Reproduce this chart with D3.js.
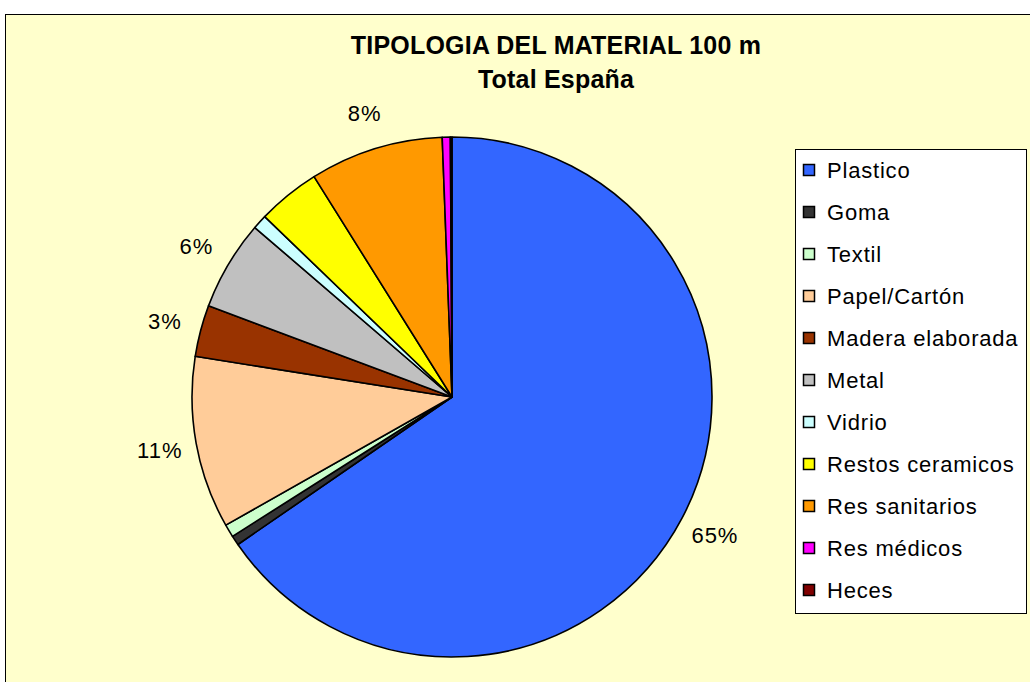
<!DOCTYPE html>
<html>
<head>
<meta charset="utf-8">
<script src="https://cdn.jsdelivr.net/npm/d3@7"></script>
<style>
  body { margin: 0; background: #fff; }
  text { font-family: "Liberation Sans", Arial, sans-serif; }
</style>
</head>
<body>
<div id="chart"></div>
<script>
// material categories, values in %
const categories = ["Plastico", "Goma", "Textil", "Papel/Cartón", "Madera elaborada", "Metal",
  "Vidrio", "Restos ceramicos", "Res sanitarios", "Res médicos", "Heces"];
const values = [65.4, 0.6, 0.8, 10.7, 3.2, 5.6, 0.9, 3.9, 8.3, 0.5, 0.1];
const colors = ["#3366FF", "#333333", "#CCFFCC", "#FFCC99", "#993300", "#C0C0C0",
  "#CCFFFF", "#FFFF00", "#FF9900", "#FF00FF", "#800000"];
// only these slices carry a percentage label in the original
const labelled = ["Plastico", "Papel/Cartón", "Madera elaborada", "Metal", "Res sanitarios"];
const titleLines = ["TIPOLOGIA DEL MATERIAL 100 m", "Total España"];

const width = 1030, height = 682;
const cx = 452, cy = 397, radius = 260;

const data = categories.map((c, i) => ({ name: c, value: values[i] }));
const total = d3.sum(values);

const svg = d3.select("#chart").append("svg")
  .attr("width", width)
  .attr("height", height);

// chart area
svg.append("rect")
  .attr("x", 5.5).attr("y", 14.5)
  .attr("width", width + 10).attr("height", height + 10)
  .attr("fill", "#FFFFCC")
  .attr("stroke", "#000")
  .attr("stroke-width", 1);

// title
svg.append("g").selectAll("text")
  .data(titleLines)
  .enter().append("text")
  .attr("x", 556)
  .attr("y", (d, i) => 54 + i * 34)
  .attr("text-anchor", "middle")
  .attr("font-weight", "bold")
  .attr("font-size", 25)
  .attr("letter-spacing", 0.2)
  .attr("fill", "#000")
  .text(d => d);

const color = d3.scaleOrdinal().domain(categories).range(colors);

const pie = d3.pie()
  .value(d => d.value)
  .sort(null);

const arc = d3.arc().innerRadius(0).outerRadius(radius);
const labelArc = d3.arc().innerRadius(radius + 37).outerRadius(radius + 37);

const g = svg.append("g").attr("transform", `translate(${cx},${cy})`);
const arcs = pie(data);

g.selectAll("path")
  .data(arcs)
  .enter().append("path")
  .attr("d", arc)
  .attr("fill", d => color(d.data.name))
  .attr("stroke", "#000")
  .attr("stroke-width", 1.6)
  .attr("stroke-linejoin", "round");

g.selectAll("text.pct")
  .data(arcs.filter(d => labelled.includes(d.data.name)))
  .enter().append("text")
  .attr("class", "pct")
  .attr("transform", d => `translate(${labelArc.centroid(d)})`)
  .attr("text-anchor", "middle")
  .attr("dy", "0.36em")
  .attr("font-size", 22)
  .attr("letter-spacing", 1)
  .attr("fill", "#000")
  .text(d => Math.round(d.data.value / total * 100) + "%");

// legend
const legend = svg.append("g").attr("transform", "translate(795,149)");
legend.append("rect")
  .attr("x", 0.5).attr("y", 0.5)
  .attr("width", 231).attr("height", 464)
  .attr("fill", "#fff")
  .attr("stroke", "#000")
  .attr("stroke-width", 1);

const ly = d3.scalePoint().domain(categories).range([21, 441]);

const item = legend.selectAll("g.item")
  .data(categories)
  .enter().append("g")
  .attr("class", "item")
  .attr("transform", d => `translate(0,${ly(d)})`);

item.append("rect")
  .attr("x", 8.5).attr("y", -5.5)
  .attr("width", 11).attr("height", 11)
  .attr("fill", d => color(d))
  .attr("stroke", "#000")
  .attr("stroke-width", 1.5);

item.append("text")
  .attr("x", 32)
  .attr("dy", "0.36em")
  .attr("font-size", 22)
  .attr("letter-spacing", 0.8)
  .attr("fill", "#000")
  .text(d => d);
</script>
</body>
</html>
